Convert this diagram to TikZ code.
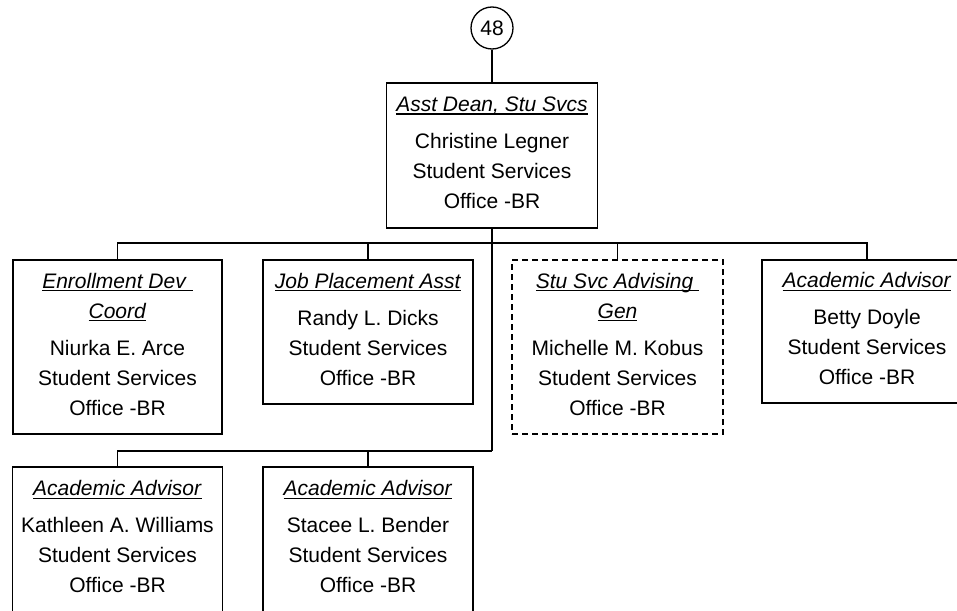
\documentclass[tikz,border=0pt]{standalone}
\usepackage{fontspec}
\setmainfont{Liberation Sans}
\newcommand\ulx[1]{\setbox0\hbox{#1}\rlap{\rule[-3.2pt]{\wd0}{1.3pt}}\box0}
\newcommand\lastdp{\rule[-6pt]{0pt}{6pt}}
\begin{document}
\begin{tikzpicture}[x=1pt,y=-1pt,line width=1.3pt,
  box/.style={draw, rectangle, minimum width=210pt, minimum height=145pt,
    align=center, inner sep=0pt, font=\fontsize{21}{30}\selectfont},
  tallbox/.style={box, minimum height=174pt},
  vacant/.style={dash pattern=on 6pt off 4pt},
  link/.style={draw, line width=1.3pt}]
\clip (0,0) rectangle (957,610);
\node[circle, draw, minimum size=42pt, inner sep=0pt, font=\fontsize{21}{25}\selectfont] (c48) at (492,28) {48};
\node[box, minimum width=211pt] (dean) at (492,155.5)
  {\ulx{\textit{Asst Dean, Stu Svcs}}\\[7pt]Christine Legner\\Student Services\\Office -BR\lastdp};
\node[tallbox, minimum width=209pt] (b1) at (117.5,347)
  {\ulx{\textit{Enrollment Dev\ }}\\\ulx{\textit{Coord}}\\[7pt]Niurka E. Arce\\Student Services\\Office -BR\lastdp};
\node[box, minimum height=144pt] (b2) at (368,332)
  {\ulx{\textit{Job Placement Asst}}\\[7pt]Randy L. Dicks\\Student Services\\Office -BR\lastdp};
\node[tallbox, vacant, minimum width=211pt] (b3) at (617.5,347)
  {\ulx{\textit{Stu Svc Advising\ }}\\\ulx{\textit{Gen}}\\[7pt]Michelle M. Kobus\\Student Services\\Office -BR\lastdp};
\node[box, minimum height=143pt] (b4) at (867,331.5)
  {\ulx{\textit{Academic Advisor}}\\[7pt]Betty Doyle\\Student Services\\Office -BR\lastdp};
\node[box] (b5) at (117.5,539.5)
  {\ulx{\textit{Academic Advisor}}\\[7pt]Kathleen A. Williams\\Student Services\\Office -BR\lastdp};
\node[box] (b6) at (368,539.5)
  {\ulx{\textit{Academic Advisor}}\\[7pt]Stacee L. Bender\\Student Services\\Office -BR\lastdp};
\coordinate (bus1) at (492,243);
\coordinate (bus2) at (492,451);
\draw[link] (c48.south) -- (dean.north);
\draw[link] (dean.south) -- (bus2);
\draw[link] (b1.north) |- (b4.north |- bus1) -- (b4.north);
\draw[link] (b2.north) -- (b2.north |- bus1);
\draw[link] (b3.north) -- (b3.north |- bus1);
\draw[link] (b5.north) |- (bus2);
\draw[link] (b6.north) -- (b6.north |- bus2);
\end{tikzpicture}
\end{document}
